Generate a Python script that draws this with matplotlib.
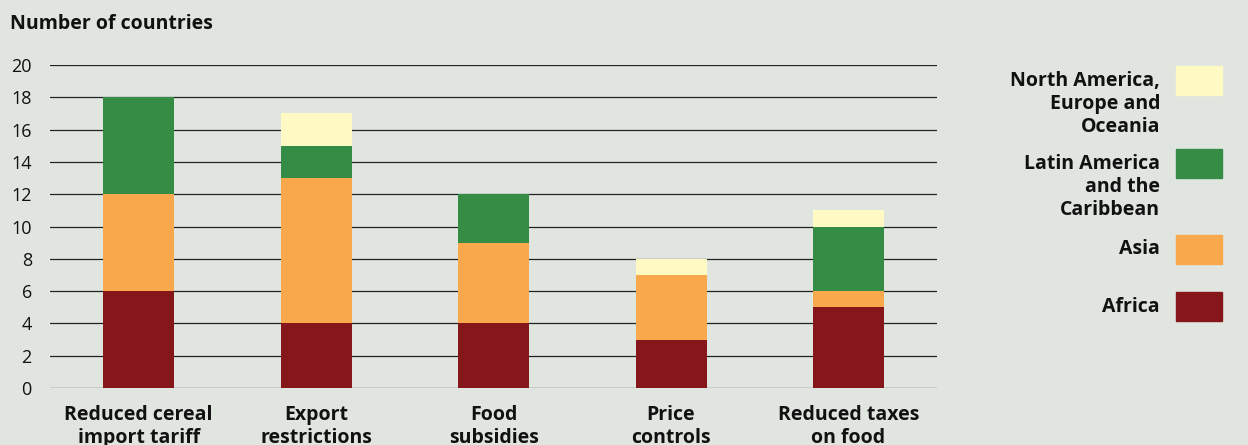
import matplotlib.pyplot as plt
import matplotlib.patches as mpatches
import numpy as np

categories = ["Reduced cereal\nimport tariff", "Export\nrestrictions", "Food\nsubsidies",
              "Price\ncontrols", "Reduced taxes\non food"]
africa = [6, 4, 4, 3, 5]
asia = [6, 9, 5, 4, 1]
latin_america = [6, 2, 3, 0, 4]
north_america = [0, 2, 0, 1, 1]

series_names = ["Africa", "Asia", "Latin America\nand the\nCaribbean",
                "North America,\nEurope and\nOceania"]
colors = ["#85161a", "#f9a94b", "#358c44", "#fff9c4"]

bg = "#e1e5e0"
plt.rcParams["font.family"] = ["Open Sans", "DejaVu Sans"]

fig = plt.figure(figsize=(12.48, 4.45), dpi=100, facecolor=bg)
ax = fig.add_axes([0.040, 0.128, 0.711, 0.726], facecolor=bg)

x = np.arange(len(categories))
bottom = np.zeros(len(categories))
for vals, col in zip([africa, asia, latin_america, north_america], colors):
    ax.bar(x, vals, width=0.40, bottom=bottom, color=col, zorder=3)
    bottom += np.array(vals)

ax.set_xlim(-0.5, 4.5)
ax.set_ylim(0, 20)
ax.set_yticks(range(0, 21, 2))
ax.yaxis.grid(True, color="#222222", linewidth=0.9, zorder=0)
ax.set_axisbelow(True)
for s in ax.spines.values():
    s.set_visible(False)
ax.tick_params(axis="y", length=0, labelsize=13, pad=13, colors="#111111")
ax.tick_params(axis="x", length=0, pad=12)
ax.set_xticks(x)
ax.set_xticklabels(categories, fontsize=14, fontweight="bold", linespacing=1.2,
                   color="#111111")

fig.text(10 / 1248, 1 - 24 / 445, "Number of countries", fontsize=14,
         fontweight="bold", va="center", ha="left", color="#111111")

# legend drawn manually
W, H = 1248, 445
patch_tops = [292, 235, 149, 66]
text_y = [307, 249, 187, 104]
for name, col, top, ty in zip(series_names, colors, patch_tops, text_y):
    fig.patches.append(mpatches.Rectangle((1176 / W, 1 - (top + 29) / H), 46 / W, 29 / H,
                                          transform=fig.transFigure, color=col))
    fig.text(1160 / W, 1 - ty / H, name, ha="right", va="center", fontsize=14,
             fontweight="bold", linespacing=1.2, color="#111111")

fig.savefig("out.png", dpi=100, facecolor=bg)
